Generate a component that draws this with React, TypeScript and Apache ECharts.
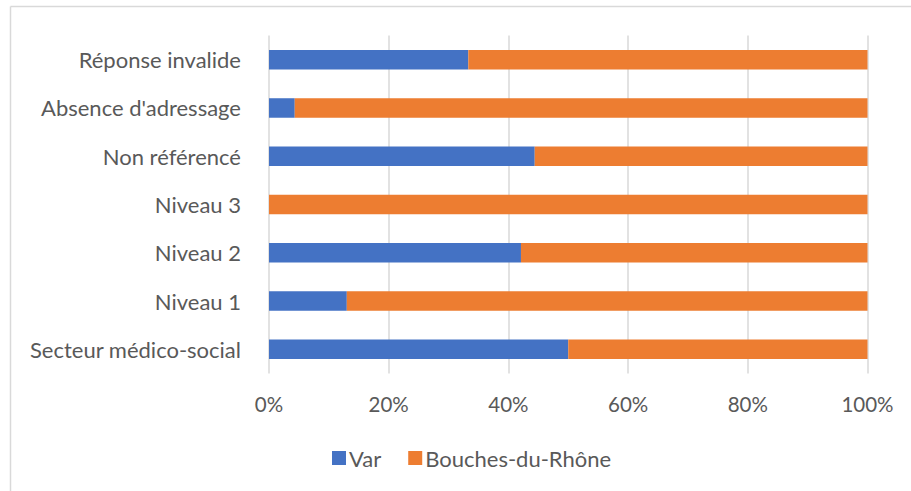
import React, { useEffect, useRef } from "react";
import * as echarts from "echarts";

const categories = [
  "Réponse invalide",
  "Absence d'adressage",
  "Non référencé",
  "Niveau 3",
  "Niveau 2",
  "Niveau 1",
  "Secteur médico-social",
];
const varValues = [33.3, 4.3, 44.4, 0, 42.1, 13.0, 50.0];
const bdrValues = [66.7, 95.7, 55.6, 100, 57.9, 87.0, 50.0];
const seriesNames = ["Var", "Bouches-du-Rhône"];
const xTicks = { min: 0, max: 100, interval: 20 };

const FONT = "Lato";
const TEXT = "#595959";

export default function App() {
  const ref = useRef<HTMLDivElement>(null);
  useEffect(() => {
    if (!ref.current) return;
    const chart = echarts.init(ref.current, undefined, { renderer: "svg" });
    chart.setOption({
      animation: false,
      backgroundColor: "#ffffff",
      textStyle: { fontFamily: FONT, color: TEXT },
      graphic: [
        { type: "line", shape: { x1: 10.5, y1: 6.5, x2: 911, y2: 6.5 }, style: { stroke: "#d9d9d9", lineWidth: 1.5 } },
        { type: "line", shape: { x1: 10.5, y1: 6.5, x2: 10.5, y2: 491 }, style: { stroke: "#d9d9d9", lineWidth: 1.5 } },
      ],
      grid: { left: 269, right: 43.5, top: 35.6, height: 337.8, containLabel: false },
      legend: {
        data: seriesNames,
        left: 327,
        top: 442,
        itemWidth: 14,
        itemHeight: 14,
        itemGap: 27,
        icon: "rect",
        textStyle: { fontFamily: FONT, fontSize: 22, color: TEXT, padding: [0, 0, 0, -2] },
      },
      xAxis: {
        type: "value",
        min: xTicks.min,
        max: xTicks.max,
        interval: xTicks.interval,
        axisLine: { show: false },
        axisTick: { show: false },
        splitLine: { show: true, lineStyle: { color: "#d9d9d9", width: 1.5 } },
        axisLabel: { formatter: "{value}%", fontFamily: FONT, fontSize: 20.5, color: TEXT, margin: 20 },
      },
      yAxis: {
        type: "category",
        data: categories,
        inverse: true,
        axisLine: { show: false },
        axisTick: { show: false },
        axisLabel: { fontFamily: FONT, fontSize: 22, color: TEXT, margin: 28, padding: [0, 0, 3, 0] },
      },
      series: [
        {
          name: seriesNames[0],
          type: "bar",
          stack: "total",
          data: varValues,
          barWidth: 19.5,
          itemStyle: { color: "#4472C4" },
        },
        {
          name: seriesNames[1],
          type: "bar",
          stack: "total",
          data: bdrValues,
          barWidth: 19.5,
          itemStyle: { color: "#ED7D31" },
        },
      ],
    });
    return () => chart.dispose();
  }, []);
  return (
    <div
      ref={ref}
      style={{ position: "fixed", left: 0, top: 0, width: 911, height: 491, background: "#fff" }}
    />
  );
}
